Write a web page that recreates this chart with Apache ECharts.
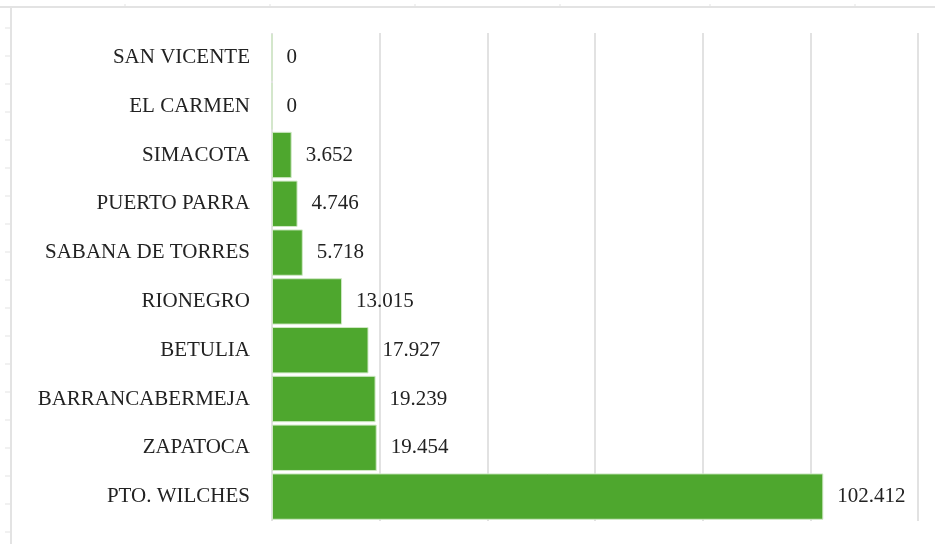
<!DOCTYPE html>
<html>
<head>
<meta charset="utf-8">
<script src="https://cdn.jsdelivr.net/npm/echarts@6/dist/echarts.min.js"></script>
<style>
  html, body { margin: 0; padding: 0; background: #fff; }
  #chart { width: 935px; height: 544px; }
</style>
</head>
<body>
<div id="chart"></div>
<script>
  // municipios, de arriba hacia abajo
  var categories = ['SAN VICENTE', 'EL CARMEN', 'SIMACOTA', 'PUERTO PARRA', 'SABANA DE TORRES',
    'RIONEGRO', 'BETULIA', 'BARRANCABERMEJA', 'ZAPATOCA', 'PTO. WILCHES']
  var values = [0, 0, 3652, 4746, 5718, 13015, 17927, 19239, 19454, 102412]

  // miles con punto
  function fmt (v) {
    return String(v).replace(/\B(?=(\d{3})+(?!\d))/g, '.')
  }

  // marco de la hoja (borde superior e izquierdo con marcas)
  var frame = [
    {type: 'line', shape: {x1: 0, y1: 7, x2: 935, y2: 7}, style: {stroke: '#e3e3e3', lineWidth: 2}},
    {type: 'line', shape: {x1: 11, y1: 7, x2: 11, y2: 544}, style: {stroke: '#e3e3e3', lineWidth: 2}}
  ]
  for (var y = 28; y < 544; y += 28) {
    frame.push({type: 'line', shape: {x1: 5, y1: y, x2: 11, y2: y}, style: {stroke: '#e3e3e3', lineWidth: 1}})
  }
  [125, 270, 415, 560, 710, 855].forEach(function (x) {
    frame.push({type: 'line', shape: {x1: x, y1: 4, x2: x, y2: 7}, style: {stroke: '#e3e3e3', lineWidth: 1}})
  })

  var chart = echarts.init(document.getElementById('chart'))
  chart.setOption({
    animation: false,
    backgroundColor: '#fff',
    graphic: frame,
    grid: {left: 272, right: 17, top: 33, bottom: 23, containLabel: false},
    xAxis: {
      type: 'value',
      min: 0,
      max: 120000,
      interval: 20000,
      axisLabel: {show: false},
      axisLine: {show: false},
      axisTick: {show: false},
      splitLine: {show: true, lineStyle: {color: '#d9d9d9', width: 1.5}}
    },
    yAxis: {
      type: 'category',
      inverse: true,
      data: categories,
      axisLine: {show: false},
      axisTick: {show: false},
      axisLabel: {
        margin: 22,
        color: '#222',
        fontFamily: 'Liberation Serif',
        fontSize: 21
      }
    },
    series: [{
      type: 'bar',
      data: values,
      barCategoryGap: '5%',
      itemStyle: {color: '#4ea72e', borderColor: '#cfe8c4', borderWidth: 1},
      label: {
        show: true,
        position: 'right',
        distance: 14,
        color: '#222',
        fontFamily: 'Liberation Serif',
        fontSize: 21,
        formatter: function (p) { return fmt(p.value) }
      }
    }]
  })
</script>
</body>
</html>
